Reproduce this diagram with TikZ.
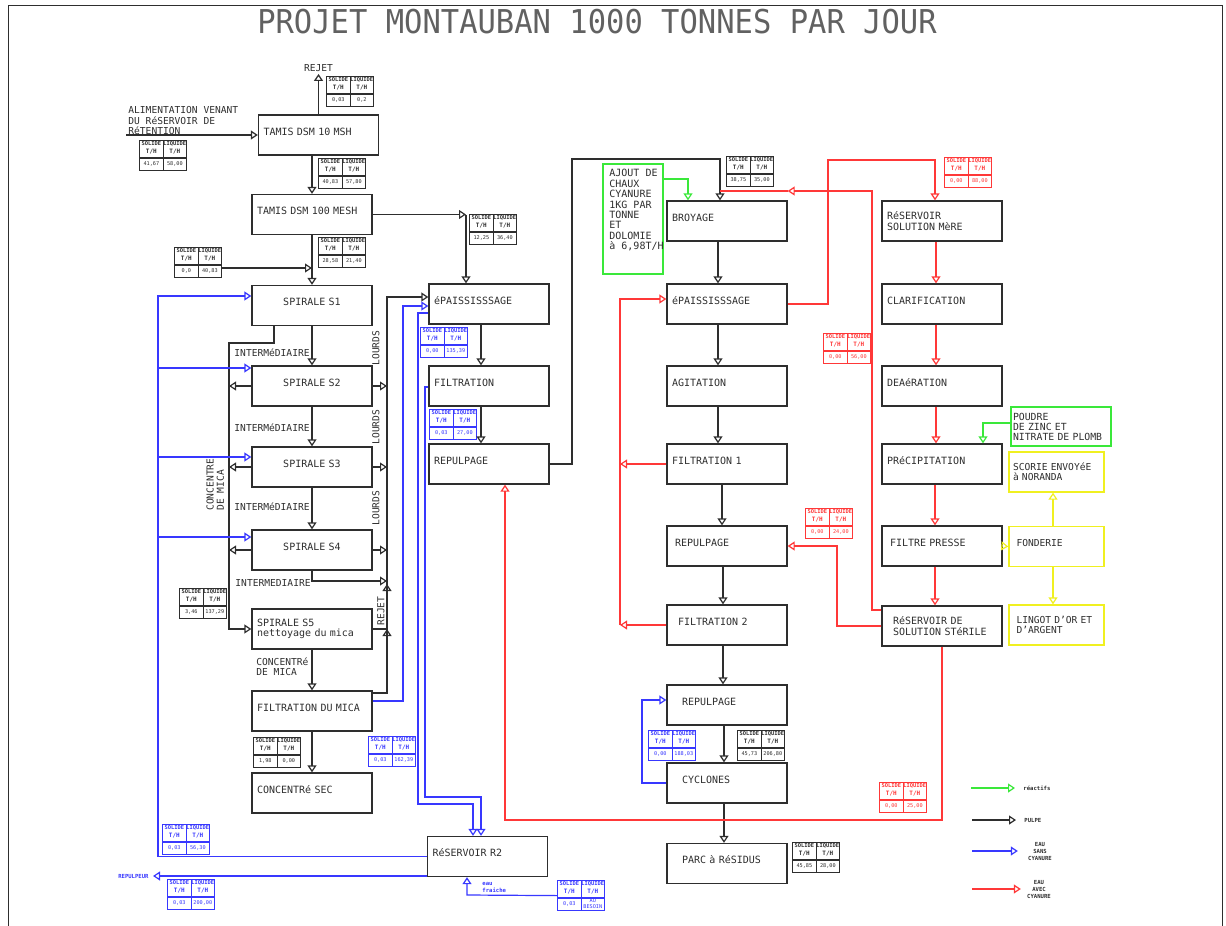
\documentclass[tikz,border=0pt]{standalone}
\usepackage{fontspec}
\setmainfont{DejaVu Sans Mono}
\usetikzlibrary{arrows.meta}

\definecolor{pulpe}{HTML}{2E2E2E}
\definecolor{eausans}{HTML}{3838FF}
\definecolor{eauavec}{HTML}{FF3838}
\definecolor{reactif}{HTML}{3AE83A}
\definecolor{fonte}{HTML}{F0F020}

% tableau debit : nom, coin haut gauche, couleur, solide, liquide
\newcommand{\debit}[5]{%
  \node[tabl, draw=#3] (#1) at (#2) {};
  \draw[#3, line width=0.6pt] (#1.north) -- (#1.south)
    ([yshift=-9pt]#1.north west) -- ([yshift=-9pt]#1.north east);
  \node[tabhaut, text=#3] at ([shift={(-11.75,4)}]#1.north) {SOLIDE};
  \node[tabhaut, text=#3] at ([shift={(11.75,4)}]#1.north) {LIQUIDE};
  \node[tabunit, text=#3] at ([shift={(-11.75,12)}]#1.north) {T/H};
  \node[tabunit, text=#3] at ([shift={(11.75,12)}]#1.north) {T/H};
  \node[tabval, text=#3] at ([shift={(-11.75,24)}]#1.north) {#4};
  \node[tabval, text=#3] at ([shift={(11.75,24)}]#1.north) {#5};
}

\begin{document}
\begin{tikzpicture}[x=0.5pt, y=-0.5pt,
    boite/.style={draw=pulpe, line width=0.7pt, minimum width=60pt, minimum height=20pt, text width=55pt, align=left, inner xsep=2.5pt, inner ysep=0pt, font=\fontsize{5}{5.3}\selectfont, text=pulpe},
    bloc/.style={boite, text height=3.7pt, text depth=3.3pt},
    jaune/.style={boite, draw=fonte, minimum width=47.5pt, text width=45pt, inner xsep=1.25pt, font=\fontsize{4.8}{5.2}\selectfont},
    lab/.style={font=\fontsize{4.8}{5.2}\selectfont, inner sep=0pt, align=left, text=pulpe},
    petit/.style={font=\fontsize{2.8}{3.5}\selectfont\bfseries, inner sep=0pt, align=center, text=pulpe},
    titre/.style={font=\fontsize{16.4}{17}\selectfont, text=black!62, inner sep=0pt},
    tabl/.style={anchor=north west, minimum width=23.5pt, minimum height=15pt, inner sep=0pt, line width=0.6pt},
    tabhaut/.style={font=\fontsize{2.7}{2.8}\selectfont\bfseries, inner sep=0pt},
    tabunit/.style={font=\fontsize{3}{3}\selectfont\bfseries, inner sep=0pt},
    tabval/.style={font=\fontsize{2.6}{2.9}\selectfont, inner sep=0pt, align=center},
    fleche/.style={-{Triangle[open, length=3.5pt, width=4.5pt]}, line width=0.6pt, draw=pulpe},
    ligne/.style={line width=0.6pt, draw=pulpe},
    fbleu/.style={fleche, draw=eausans},
    frouge/.style={fleche, draw=eauavec},
    fvert/.style={fleche, draw=reactif},
    fjaune/.style={fleche, draw=fonte}
  ]
  \useasboundingbox (0,0) rectangle (1226,926);
  \draw[ligne, line width=0.5pt] (8,926) -- (8,5) -- (1222,5) -- (1222,926);
  \node[titre] (titre) at (597,22) {\scalebox{0.93}[1]{PROJET MONTAUBAN 1000 TONNES PAR JOUR}};

  % concentrateur
  \node[bloc] (tamisA) at (318.5,135) {TAMIS DSM 10 MSH};
  \node[bloc] (tamisB) at (312,214.5) {TAMIS DSM 100 MESH};
  \node[bloc, align=center] (s1) at (312,305.5) {SPIRALE S1};
  \node[bloc, align=center] (s2) at (312,386) {SPIRALE S2};
  \node[bloc, align=center] (s3) at (312,467) {SPIRALE S3};
  \node[bloc, align=center] (s4) at (312,550) {SPIRALE S4};
  \node[boite] (s5) at (312,629) {SPIRALE S5\\nettoyage du mica};
  \node[bloc] (filmica) at (312,711) {FILTRATION DU MICA};
  \node[bloc] (consec) at (312,793) {CONCENTRé SEC};
  \node[bloc] (r2) at (487.5,856.5) {RéSERVOIR R2};
  \node[bloc] (epA) at (489,304) {éPAISSISSSAGE};
  \node[bloc] (filA) at (489,386) {FILTRATION};
  \node[bloc] (repA) at (489,464) {REPULPAGE};

  % cyanuration
  \node[boite, draw=reactif, minimum width=30pt, text width=26pt, inner xsep=2pt, minimum height=55pt] (ajout) at (633,219) {};
  \node[lab, anchor=north west, font=\fontsize{5}{5.2}\selectfont] (ajoutTxt) at (609,169) {AJOUT DE\\CHAUX\\CYANURE\\1KG PAR\\TONNE\\ET\\DOLOMIE\\à 6,98T/H};
  \node[bloc] (broy) at (727,221) {BROYAGE};
  \node[bloc] (epB) at (727,304) {éPAISSISSSAGE};
  \node[bloc] (agit) at (727,386) {AGITATION};
  \node[bloc] (filt1) at (727,464) {FILTRATION 1};
  \node[bloc] (repB) at (727,546) {\hspace*{1.5pt}REPULPAGE};
  \node[bloc] (filt2) at (727,625) {\hspace*{3pt}FILTRATION 2};
  \node[bloc] (repC) at (727,705) {\hspace*{5pt}REPULPAGE};
  \node[bloc] (cyc) at (727,783) {\hspace*{5pt}CYCLONES};
  \node[bloc] (parc) at (727,863.5) {\hspace*{5pt}PARC à RéSIDUS};

  % solution
  \node[boite] (rsm) at (942,221) {RéSERVOIR\\SOLUTION MèRE};
  \node[bloc] (clar) at (942,304) {CLARIFICATION};
  \node[bloc] (dea) at (942,386) {DEAéRATION};
  \node[bloc] (prec) at (942,464) {PRéCIPITATION};
  \node[bloc] (fpresse) at (942,546) {\hspace*{1.5pt}FILTRE PRESSE};
  \node[boite] (sterile) at (942,626) {\hspace*{3pt}RéSERVOIR DE\\\hspace*{3pt}SOLUTION STéRILE};
  \node[boite, draw=reactif, minimum width=50pt, text width=48pt, inner xsep=1pt, minimum height=19.5pt, font=\fontsize{4.9}{5}\selectfont] (poudre) at (1061,426.5) {POUDRE\\DE ZINC ET\\NITRATE DE PLOMB};
  \node[jaune] (scorie) at (1056.5,472) {\hspace*{0.75pt}SCORIE ENVOYéE\\\hspace*{0.75pt}à NORANDA};
  \node[jaune, text height=3.7pt, text depth=3.3pt] (fonderie) at (1056.5,546.5) {\hspace*{2.5pt}FONDERIE};
  \node[jaune] (lingot) at (1056.5,625) {\hspace*{2.5pt}LINGOT D'OR ET\\\hspace*{2.5pt}D'ARGENT};

  % debits
  \debit{t1}{326,76}{pulpe}{0,03}{0,2}
  \debit{t2}{139,140}{pulpe}{41,67}{58,00}
  \debit{t3}{318,158}{pulpe}{40,83}{57,80}
  \debit{t4}{318,237}{pulpe}{28,58}{21,40}
  \debit{t5}{174,247}{pulpe}{0,0}{40,83}
  \debit{t6}{469,214}{pulpe}{12,25}{36,40}
  \debit{t7}{420,327}{eausans}{0,00}{135,39}
  \debit{t8}{429,409}{eausans}{0,03}{27,00}
  \debit{t9}{179,588}{pulpe}{3,46}{137,29}
  \debit{t10}{253,737}{pulpe}{1,98}{0,00}
  \debit{t11}{368,736}{eausans}{0,03}{162,39}
  \debit{t12}{162,824}{eausans}{0,03}{56,30}
  \debit{t13}{167,879}{eausans}{0,03}{200,00}
  \debit{t14}{557,880}{eausans}{0,03}{AU\\BESOIN}
  \debit{t15}{726,156}{pulpe}{38,75}{35,00}
  \debit{t16}{944,157}{eauavec}{0,00}{88,00}
  \debit{t17}{823,333}{eauavec}{0,00}{56,00}
  \debit{t18}{805,508}{eauavec}{0,00}{24,00}
  \debit{t19}{648,730}{eausans}{0,00}{188,03}
  \debit{t20}{737,730}{pulpe}{45,73}{206,80}
  \debit{t21}{792,842}{pulpe}{45,85}{28,00}
  \debit{t22}{879,782}{eauavec}{0,00}{25,00}

  % textes
  \node[lab, anchor=south west] (alimTxt) at (128,135) {ALIMENTATION VENANT\\DU RéSERVOIR DE\\RéTENTION};
  \node[lab] (rejetTxt) at (318.5,68) {REJET};
  \node[lab, anchor=east] (int1) at (310,353) {INTERMéDIAIRE};
  \node[lab, anchor=east] (int2) at (310,428) {INTERMéDIAIRE};
  \node[lab, anchor=east] (int3) at (310,507) {INTERMéDIAIRE};
  \node[lab, anchor=east] (int4) at (311,583) {INTERMEDIAIRE};
  \node[lab, rotate=90] (lourd1) at (376,348) {LOURDS};
  \node[lab, rotate=90] (lourd2) at (376,427) {LOURDS};
  \node[lab, rotate=90] (lourd3) at (376,508) {LOURDS};
  \node[lab, rotate=90] (rejet5) at (381,611) {REJET};
  \node[lab, anchor=north west] (micaTxt) at (256,657) {CONCENTRé\\DE MICA};
  \node[lab, rotate=90, anchor=north west] (micaTxtB) at (206,511) {CONCENTRE\\DE MICA};

  % pulpe
  \coordinate (alim) at (126,135);
  \draw[fleche] (alim) -- (tamisA.west);
  \draw[fleche] (tamisA.north) -- ([yshift=-1pt]rejetTxt.south);
  \draw[fleche] (tamisA.south -| tamisB.north) -- (tamisB.north);
  \coordinate (jA) at (466,214.5);
  \draw[fleche] (tamisB.east) -- (jA);
  \draw[fleche] (jA) -- (jA |- epA.north);
  \draw[fleche] (tamisB.south) -- (s1.north);
  \coordinate (jB) at (312,268);
  \draw[fleche] (t5.east |- jB) -- (jB);
  \draw[fleche] (s1.south) -- (s2.north);
  \draw[fleche] (s2.south) -- (s3.north);
  \draw[fleche] (s3.south) -- (s4.north);
  \coordinate (mica) at (229,343);
  \draw[fleche] ([xshift=-19pt]s1.south) |- (mica) |- (s5.west);
  \draw[fleche] (s2.west) -- (s2.west -| mica);
  \draw[fleche] (s3.west) -- (s3.west -| mica);
  \draw[fleche] (s4.west) -- (s4.west -| mica);
  \coordinate (lourd) at (387,297);
  \draw[fleche] ([yshift=9pt]filmica.east) -| (lourd) -- (lourd -| epA.west);
  \draw[fleche] (s2.east) -- (s2.east -| lourd);
  \draw[fleche] (s3.east) -- (s3.east -| lourd);
  \draw[fleche] (s4.east) -- (s4.east -| lourd);
  \coordinate (inter) at (387,581);
  \draw[fleche] (s4.south) |- (inter);
  \draw[fleche] ([yshift=-6pt]inter) -- ([yshift=-1.5pt]inter);
  \coordinate (rejS5) at (387,629);
  \draw[ligne] (s5.east) -- (rejS5);
  \draw[fleche] ([yshift=-6pt]rejS5) -- (rejS5);
  \draw[fleche] (s5.south) -- (filmica.north);
  \draw[fleche] (filmica.south) -- (consec.north);
  \draw[fleche] ([xshift=-4pt]epA.south) -- ([xshift=-4pt]filA.north);
  \draw[fleche] ([xshift=-4pt]filA.south) -- ([xshift=-4pt]repA.north);
  \coordinate (hautA) at (572,159);
  \draw[fleche] (repA.east) -| (hautA) -| ([xshift=-3.5pt]broy.north);
  \draw[fvert] ([yshift=20pt]ajout.east) -| ([xshift=-19.5pt]broy.north);
  \draw[fleche] ([xshift=-4.5pt]broy.south) -- ([xshift=-4.5pt]epB.north);
  \draw[fleche] ([xshift=-4.5pt]epB.south) -- ([xshift=-4.5pt]agit.north);
  \draw[fleche] ([xshift=-4.5pt]agit.south) -- ([xshift=-4.5pt]filt1.north);
  \draw[fleche] ([xshift=-2.5pt]filt1.south) -- ([xshift=-2.5pt]repB.north);
  \draw[fleche] ([xshift=-2pt]repB.south) -- ([xshift=-2pt]filt2.north);
  \draw[fleche] ([xshift=-2pt]filt2.south) -- ([xshift=-2pt]repC.north);
  \draw[fleche] ([xshift=-1.5pt]repC.south) -- ([xshift=-1.5pt]cyc.north);
  \draw[fleche] ([xshift=-1.5pt]cyc.south) -- ([xshift=-1.5pt]parc.north);

  % eau sans cyanure
  \coordinate (b1) at (158,296);
  \coordinate (b2) at (158,368);
  \coordinate (b3) at (158,457);
  \coordinate (b4) at (158,537);
  \draw[fbleu] (r2.west) -| (b1) -- (b1 -| s1.west);
  \draw[fbleu] (b2) -- (b2 -| s2.west);
  \draw[fbleu] (b3) -- (b3 -| s3.west);
  \draw[fbleu] (b4) -- (b4 -| s4.west);
  \coordinate (repulpeur) at (153,876);
  \draw[fbleu] (r2.south west |- repulpeur) -- (repulpeur);
  \node[petit, anchor=east, text=eausans] (repTxt) at (149,876) {REPULPEUR};
  \coordinate (eauf) at (467,895);
  \draw[fbleu] (t14.west) -- (eauf) -- (eauf |- r2.south);
  \node[petit, anchor=west, align=left, text=eausans] (eaufTxt) at (482,887) {eau\\fraiche};
  \coordinate (bE) at (403,306);
  \draw[fbleu] ([yshift=5pt]filmica.east) -| (bE) -- (bE -| epA.west);
  \coordinate (bF) at (418,313);
  \coordinate (bG) at (473,804);
  \draw[fbleu] (bF -| epA.west) -- (bF) |- (bG) -- (bG |- r2.north);
  \coordinate (bH) at (425,387);
  \coordinate (bI) at (481,797);
  \draw[fbleu] (bH -| filA.west) -- (bH) |- (bI) -- (bI |- r2.north);
  \coordinate (bJ) at (642,700);
  \draw[fbleu] (cyc.west) -| (bJ) -- (bJ -| repC.west);

  % eau avec cyanure
  \coordinate (rA) at (828,160);
  \draw[frouge] (epB.east) -| (rA) -| ([xshift=-3.5pt]rsm.north);
  \coordinate (rB) at (872,191);
  \coordinate (rC) at (720,191);
  \draw[frouge] ([yshift=8pt]sterile.west) -| (rB) -- (rB -| broy.east);
  \draw[ligne, draw=eauavec] (rB -| broy.east) -- (rC);
  \coordinate (rD) at (620,299);
  \draw[frouge] (filt1.west) -- (filt1.west -| rD);
  \draw[frouge] (filt2.west) -- (filt2.west -| rD);
  \draw[frouge] (filt2.west -| rD) -- (rD) -- (rD -| epB.west);
  \coordinate (rE) at (505,820);
  \draw[frouge] (sterile.south) |- (rE) -- (rE |- repA.south);
  \coordinate (rF) at (837,546);
  \draw[frouge] (sterile.west) -| (rF) -- (rF -| repB.east);
  \draw[frouge] ([xshift=-3pt]rsm.south) -- ([xshift=-3pt]clar.north);
  \draw[frouge] ([xshift=-3pt]clar.south) -- ([xshift=-3pt]dea.north);
  \draw[frouge] ([xshift=-3pt]dea.south) -- ([xshift=-3pt]prec.north);
  \draw[frouge] ([xshift=-3.5pt]prec.south) -- ([xshift=-3.5pt]fpresse.north);
  \draw[frouge] ([xshift=-3.5pt]fpresse.south) -- ([xshift=-3.5pt]sterile.north);

  % reactifs et fonderie
  \draw[fvert] ([yshift=1.75pt]poudre.west) -| ([xshift=20.5pt]prec.north);
  \draw[fjaune] (fpresse.east) -- (fonderie.west);
  \draw[fjaune] ([xshift=-1.75pt]fonderie.north) -- ([xshift=-1.75pt]scorie.south);
  \draw[fjaune] ([xshift=-1.75pt]fonderie.south) -- ([xshift=-1.75pt]lingot.north);

  % legende
  \node[petit, anchor=west] (leg1) at (1023,788) {réactifs};
  \node[petit, anchor=west] (leg2) at (1024,820) {PULPE};
  \node[petit] (leg3) at (1040,851) {EAU\\SANS\\CYANURE};
  \node[petit] (leg4) at (1039,889) {EAU\\AVEC\\CYANURE};
  \coordinate (lg1) at (971,788);
  \coordinate (lg2) at (972,820);
  \coordinate (lg3) at (972,851);
  \coordinate (lg4) at (972,889);
  \draw[fvert] (lg1) -- ([xshift=-4pt]leg1.west);
  \draw[fleche] (lg2) -- ([xshift=-4pt]leg2.west);
  \draw[fbleu] (lg3) -- ([xshift=-5pt]leg3.west);
  \draw[frouge] (lg4) -- ([xshift=-3pt]leg4.west);
\end{tikzpicture}
\end{document}
